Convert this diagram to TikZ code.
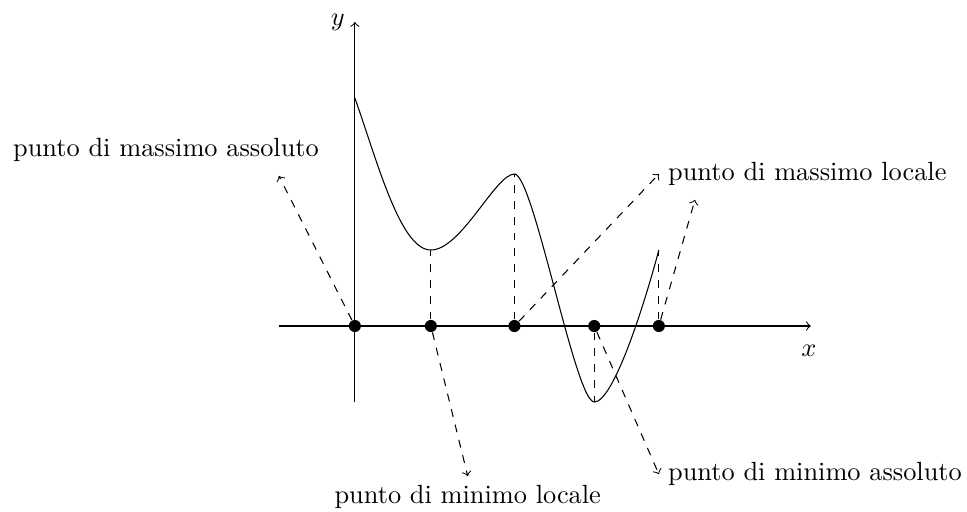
\documentclass[tikz,border=0pt]{standalone}
\begin{document}
\begin{tikzpicture}[x=0.507cm,y=0.507cm,
  dot/.style={circle,fill=black,inner sep=0pt,minimum size=4.6pt},
  lab/.style={inner sep=3.33pt},
  guide/.style={dashed},
  pointer/.style={dashed,->}]
\useasboundingbox (-9.34,-4.87) rectangle (16.11,8.58);
% axes
\draw[->] (-2,0) -- (12,0);
\draw[->] (0,-2) -- (0,8);
\node (xl) at (11.95,-0.66) {$x$};
\node (yl) at (-0.45,8) {$y$};
% curve
\coordinate (c0) at (0,6);
\coordinate (c1) at (2,2);
\coordinate (c2) at (4.2,4);
\coordinate (c3) at (6.3,-2);
\coordinate (c4) at (8,2);
\draw (c0) .. controls (0.6,4.3) and (1.2,2) .. (c1)
           .. controls (2.8,2) and (3.7,4) .. (c2)
           .. controls (4.7,4) and (5.8,-2) .. (c3)
           .. controls (6.8,-2) and (7.6,0.5) .. (c4);
% points on the axis
\node[dot] (p0) at (0,0) {};
\node[dot] (p1) at (2,0) {};
\node[dot] (p2) at (4.2,0) {};
\node[dot] (p3) at (6.3,0) {};
\node[dot] (p4) at (8,0) {};
% vertical guides
\draw[guide] (p1) -- (c1);
\draw[guide] (p2) -- (c2);
\draw[guide] (p3) -- (c3);
\draw[guide] (p4) -- (c4);
% labels
\node[lab] (tmaxa) at (-4.97,4.63) {punto di massimo assoluto};
\node[lab,anchor=west] (tmaxl) at (8.0,4) {punto di massimo locale};
\node[lab,anchor=north] (tminl) at (2.97,-3.95) {punto di minimo locale};
\node[lab,anchor=west] (tmina) at (8.0,-3.9) {punto di minimo assoluto};
\coordinate (amax) at (-2,3.95);
\coordinate (bmaxl) at (8.95,3.32);
% pointers
\draw[pointer] (p0) -- (amax);
\draw[pointer] (p2) -- (tmaxl.west);
\draw[pointer] (p4) -- (bmaxl);
\draw[pointer] (p1) -- (tminl.north);
\draw[pointer] (p3) -- (tmina.west);
\end{tikzpicture}
\end{document}
